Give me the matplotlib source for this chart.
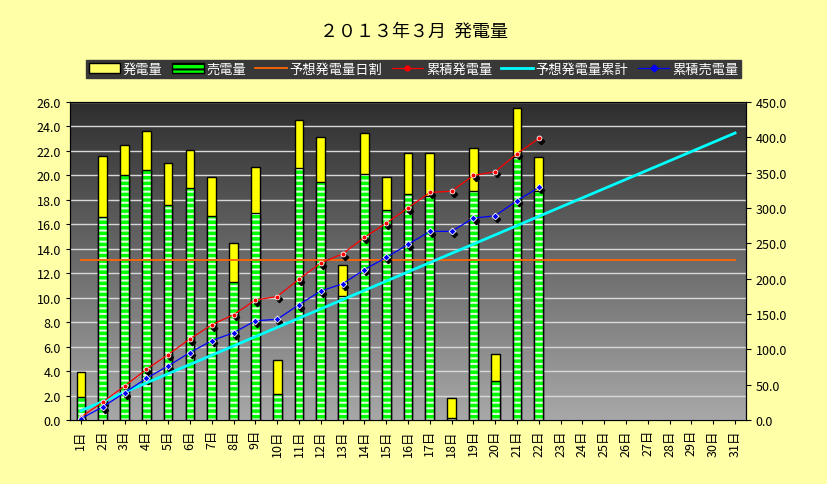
import numpy as np
import matplotlib.pyplot as plt
import matplotlib.transforms as mtransforms

plt.rcParams['font.family'] = 'Noto Sans CJK JP'
plt.rcParams['hatch.linewidth'] = 1.5

days = [f'{d}日' for d in range(1, 32)]
gen = [3.9, 21.6, 22.5, 23.6, 21.0, 22.1, 19.9, 14.5, 20.7, 4.9, 24.5, 23.1, 12.7, 23.5,
       19.9, 21.8, 21.8, 1.8, 22.2, 5.4, 25.5, 21.5]
sold = [1.9, 16.6, 20.0, 20.4, 17.6, 19.0, 16.7, 11.3, 16.9, 2.1, 20.6, 19.5, 10.1, 20.1,
        17.2, 18.5, 18.3, 0.2, 18.7, 3.2, 21.5, 18.7]
forecast_daily = [13.1] * 31
cum_gen = [3.9, 25.5, 48.0, 71.6, 92.6, 114.7, 134.6, 149.1, 169.8, 174.7, 199.2, 222.3,
           235.0, 258.5, 278.4, 300.2, 322.0, 323.8, 346.0, 351.4, 376.9, 398.4]
cum_forecast = [13.1, 26.2, 39.3, 52.4, 65.5, 78.6, 91.7, 104.8, 117.9, 131.0, 144.1, 157.2,
                170.3, 183.4, 196.5, 209.6, 222.7, 235.8, 248.9, 262.0, 275.1, 288.2, 301.3,
                314.4, 327.5, 340.6, 353.7, 366.8, 379.9, 393.0, 406.1]
cum_sold = [1.9, 18.5, 38.5, 58.9, 76.5, 95.5, 112.2, 123.5, 140.4, 142.5, 163.1, 182.6,
            192.7, 212.8, 230.0, 248.5, 266.8, 267.0, 285.7, 288.9, 310.4, 329.1]

fig = plt.figure(figsize=(8.27, 4.85), dpi=100, facecolor='#FFFFA8')
ax = fig.add_axes([70/827, 64/485, 676/827, 318/485])
x = np.arange(1, 32)
xg = x[:len(gen)]

# gradient plot background
grad = np.linspace(0, 1, 256).reshape(-1, 1)
cmap = plt.cm.colors.LinearSegmentedColormap.from_list('g', ['#2e2e2e', '#a8a8a8'])
ax.imshow(grad, extent=[0.5, 31.5, 0, 26], aspect='auto', cmap=cmap, zorder=0, origin='upper')
ax.set_xlim(0.5, 31.5)
ax.set_ylim(0, 26)
ax.set_yticks(np.arange(0, 27, 2))
ax.set_yticklabels([f'{v:.1f}' for v in np.arange(0, 27, 2)], fontsize=9)
ax.grid(axis='y', color='#d8d8d8', linewidth=1, zorder=1)
ax.set_axisbelow(True)

ax.bar(xg, gen, width=0.4, color='#FFFF00', edgecolor='black', linewidth=1, zorder=2)
ax.bar(xg, sold, width=0.4, color='#00FF00', edgecolor='#E0FFE0', hatch='---', linewidth=0, zorder=3)
ax.bar(xg, sold, width=0.4, fill=False, edgecolor='black', linewidth=1, zorder=3)
h_sold = plt.Rectangle((0, 0), 1, 1, facecolor='#00FF00', edgecolor='black', hatch='---')
h_gen = plt.Rectangle((0, 0), 1, 1, facecolor='#FFFF66', edgecolor='black')
ax.plot(x, forecast_daily, color='#FF6600', linewidth=1.3, zorder=4)

ax.set_xticks(x)
ax.set_xticklabels(days, rotation=90, fontsize=9)
ax.tick_params(length=3)

ax2 = ax.twinx()
ax2.set_ylim(0, 450)
ax2.set_yticks(np.arange(0, 451, 50))
ax2.set_yticklabels([f'{v:.1f}' for v in np.arange(0, 451, 50)], fontsize=9)
shadow = mtransforms.offset_copy(ax2.transData, fig=fig, x=1.5, y=-2, units='points')
ax2.plot(xg, cum_gen, 'D', color='black', markersize=3.2, transform=shadow)
ax2.plot(xg, cum_sold, 'D', color='black', markersize=3.2, transform=shadow)
ax2.plot(x, cum_forecast, color='#00FFFF', linewidth=2)
ax2.plot(xg, cum_gen, '-o', color='#FF0000', markersize=3.5, markeredgecolor='white', markeredgewidth=0.6, linewidth=0.9)
ax2.plot(xg, cum_sold, '-D', color='#0000FF', markersize=3.5, markeredgecolor='white', markeredgewidth=0.6, linewidth=0.9)

handles = [h_gen, h_sold,
           plt.Line2D([], [], color='#FF6600', linewidth=1.3),
           plt.Line2D([], [], color='red', marker='o', markersize=3.5, linewidth=0.9),
           plt.Line2D([], [], color='#00FFFF', linewidth=2),
           plt.Line2D([], [], color='blue', marker='D', markersize=3.5, linewidth=0.9)]
labels = ['発電量', '売電量', '予想発電量日割', '累積発電量', '予想発電量累計', '累積売電量']
leg = fig.legend(handles, labels, loc='center', ncol=6, fontsize=9.5,
                 frameon=True, fancybox=False, facecolor='#383838', edgecolor='#383838',
                 handlelength=2.4, handletextpad=0.2, columnspacing=0.7, borderpad=0.2)
leg.set_bbox_to_anchor((0.5, 1 - 70/485), transform=fig.transFigure)
leg.get_frame().set_alpha(1)
for t in leg.get_texts():
    t.set_color('white')

fig.text(0.5, 1 - 32/485, '２０１３年３月  発電量', ha='center', va='center', fontsize=13)
fig.savefig('out.png', dpi=100, facecolor=fig.get_facecolor())
